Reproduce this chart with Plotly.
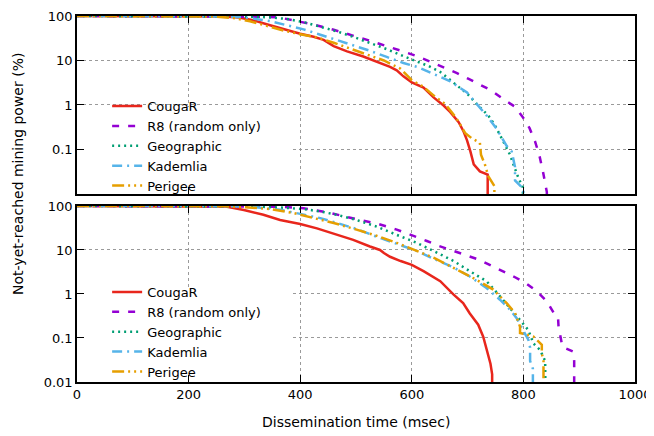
import plotly.graph_objects as go

# ---------------- data ----------------
x_tick_vals = [0, 200, 400, 600, 800, 1000]
y_tick_vals_top = [0.1, 1, 10, 100]
y_tick_text_top = ["0.1", "1", "10", "100"]
y_tick_vals_bot = [0.01, 0.1, 1, 10, 100]
y_tick_text_bot = ["0.01", "0.1", "1", "10", "100"]

series_names = ["CougaR", "R8 (random only)", "Geographic", "Kademlia", "Perigee"]

# top panel
cougar_top_x = [0, 200, 260, 290, 316, 346, 376, 400, 424, 442, 460, 484, 513, 543, 561, 573, 585, 600, 621, 639, 657, 669, 684, 693, 699, 705, 711, 722, 734, 736, 736]
cougar_top_y = [100, 99.5, 97, 92, 80, 62, 48, 40, 34, 29, 21, 16, 12.3, 9, 7.2, 6.0, 4.4, 3.2, 2.45, 1.48, 0.97, 0.69, 0.41, 0.25, 0.16, 0.09, 0.046, 0.032, 0.027, 0.027, 0.001]

r8_top_x = [0, 200, 300, 340, 364, 400, 424, 460, 490, 520, 543, 570, 591, 613, 637, 659, 681, 701, 722, 743, 764, 784, 799, 811, 821, 829, 835, 840, 842, 842]
r8_top_y = [100, 99.8, 99, 96, 92, 74, 64, 49, 37, 29, 23.5, 18.5, 15, 12, 9, 6.8, 5.2, 3.9, 2.8, 2.1, 1.35, 0.93, 0.53, 0.30, 0.15, 0.07, 0.032, 0.014, 0.011, 0.001]

geo_top_x = [0, 200, 280, 320, 346, 376, 406, 436, 466, 495, 525, 555, 585, 610, 630, 651, 675, 699, 719, 737, 749, 758, 767, 776, 782, 791, 799, 800]
geo_top_y = [100, 99.8, 98.5, 96, 93, 86, 73, 57, 45, 34, 25, 18, 12.5, 9.3, 7.5, 5.5, 3.1, 1.8, 0.97, 0.58, 0.35, 0.21, 0.13, 0.076, 0.046, 0.023, 0.014, 0.001]

kad_top_x = [0, 200, 260, 300, 346, 376, 406, 436, 466, 495, 525, 555, 585, 612, 639, 669, 699, 716, 734, 752, 761, 770, 779, 785, 785, 791, 800, 800]
kad_top_y = [100, 99.7, 98, 93, 77, 62, 50, 38, 29, 22, 16.5, 12, 8.8, 7.0, 5.0, 3.4, 1.9, 1.05, 0.58, 0.29, 0.19, 0.12, 0.09, 0.04, 0.02, 0.017, 0.013, 0.001]

per_top_x = [0, 200, 250, 280, 310, 340, 370, 400, 430, 460, 490, 520, 550, 580, 600, 620, 640, 660, 680, 696, 707, 722, 724, 731, 737, 745, 748, 748]
per_top_y = [100, 99.5, 97, 90, 76, 60, 47, 39, 33, 25, 18, 13.5, 10, 6.5, 3.6, 2.6, 1.6, 1.05, 0.5, 0.23, 0.18, 0.14, 0.076, 0.046, 0.025, 0.018, 0.015, 0.001]

# bottom panel
cougar_bot_x = [0, 200, 250, 269, 299, 334, 364, 400, 430, 466, 495, 525, 543, 550, 561, 580, 600, 621, 651, 675, 692, 704, 719, 728, 735, 741, 744, 744]
cougar_bot_y = [100, 99.7, 98.5, 96, 81, 63, 48, 39, 31, 22, 17, 12, 10, 8.5, 7, 5.6, 4.6, 3.3, 1.95, 0.97, 0.62, 0.36, 0.2, 0.107, 0.053, 0.026, 0.015, 0.001]

r8_bot_x = [0, 200, 300, 364, 406, 454, 501, 537, 573, 609, 627, 649, 673, 696, 719, 740, 764, 785, 806, 824, 842, 855, 862, 863, 870, 889, 891, 891]
r8_bot_y = [100, 99.9, 99.5, 96, 89, 69, 50, 40, 29, 20, 16, 12.3, 9.5, 7.7, 6.1, 4.5, 3.3, 2.4, 1.7, 1.15, 0.68, 0.36, 0.3, 0.18, 0.063, 0.049, 0.03, 0.001]

geo_bot_x = [0, 200, 280, 330, 364, 406, 436, 466, 501, 537, 573, 609, 639, 675, 704, 734, 758, 782, 797, 809, 818, 830, 839, 840]
geo_bot_y = [100, 99.9, 99, 96, 92, 85, 75, 63, 48, 34, 22, 14.5, 9.5, 5.6, 3.3, 1.95, 0.89, 0.4, 0.23, 0.15, 0.075, 0.053, 0.03, 0.001]

kad_bot_x = [0, 200, 260, 316, 364, 400, 436, 466, 501, 537, 573, 609, 639, 675, 704, 734, 758, 776, 788, 800, 809, 812, 812, 817, 817]
kad_bot_y = [100, 99.8, 99, 95, 82, 66, 53, 41, 30, 20, 14, 9.5, 6.3, 4, 2.5, 1.37, 0.74, 0.44, 0.28, 0.15, 0.09, 0.06, 0.03, 0.02, 0.001]

per_bot_x = [0, 200, 260, 300, 346, 388, 424, 460, 501, 537, 573, 609, 639, 675, 716, 746, 770, 785, 794, 794, 806, 818, 833, 833, 836, 836]
per_bot_y = [100, 99.8, 98.5, 94, 85, 69, 54, 41, 29, 21, 14.5, 9.5, 6.7, 3.9, 2.1, 1.26, 0.62, 0.37, 0.18, 0.13, 0.12, 0.108, 0.07, 0.045, 0.03, 0.001]

# ---------------- styling ----------------
colors = ["#e8261c", "#9400d3", "#009e73", "#56b4e9", "#e69f00"]
dashes = ["solid", "7px,9px", "2px,4px", "10px,5px,2px,5px", "12px,4px,2px,4px,2px,4px"]
FONT = "DejaVu Sans"

top_data = [(cougar_top_x, cougar_top_y), (r8_top_x, r8_top_y), (geo_top_x, geo_top_y),
            (kad_top_x, kad_top_y), (per_top_x, per_top_y)]
bot_data = [(cougar_bot_x, cougar_bot_y), (r8_bot_x, r8_bot_y), (geo_bot_x, geo_bot_y),
            (kad_bot_x, kad_bot_y), (per_bot_x, per_bot_y)]

fig = go.Figure()
for i, (xs, ys) in enumerate(top_data):
    fig.add_trace(go.Scatter(x=xs, y=ys, mode="lines", name=series_names[i],
                             line=dict(color=colors[i], width=2.5, dash=dashes[i]),
                             xaxis="x", yaxis="y", legend="legend"))
for i, (xs, ys) in enumerate(bot_data):
    fig.add_trace(go.Scatter(x=xs, y=ys, mode="lines", name=series_names[i],
                             line=dict(color=colors[i], width=2.5, dash=dashes[i]),
                             xaxis="x2", yaxis="y2", legend="legend2"))

axis_common = dict(showline=True, linecolor="black", linewidth=1.5, mirror="ticks",
                   ticks="inside", ticklen=7, tickcolor="black", tickwidth=1.2,
                   showgrid=True, gridcolor="#9a9a9a", griddash="dot", gridwidth=1,
                   zeroline=False, automargin=False,
                   tickfont=dict(family=FONT, size=13, color="black"))

legend_common = dict(bgcolor="rgba(0,0,0,0)", borderwidth=0,
                     font=dict(family=FONT, size=13, color="black"),
                     xanchor="left", yanchor="top", traceorder="normal",
                     tracegroupgap=0)

# the page body adds an 8px offset, so margins are shifted by 8px
fig.update_layout(
    width=654, height=436,
    margin=dict(l=69, r=27, t=8, b=62),
    paper_bgcolor="white", plot_bgcolor="white",
    font=dict(family=FONT, size=13, color="black"),
    xaxis=dict(domain=[0, 1], anchor="y", range=[0, 1000], tickvals=x_tick_vals,
               showticklabels=False, **axis_common),
    yaxis=dict(domain=[0.514, 1], anchor="x", type="log", range=[-2, 2],
               tickvals=y_tick_vals_top, ticktext=y_tick_text_top, **axis_common),
    xaxis2=dict(domain=[0, 1], anchor="y2", range=[0, 1000], tickvals=x_tick_vals,
                **axis_common),
    yaxis2=dict(domain=[0, 0.481], anchor="x2", type="log", range=[-2, 2],
                tickvals=y_tick_vals_bot, ticktext=y_tick_text_bot, **axis_common),
    legend=dict(x=0.054, y=0.795, **legend_common),
    legend2=dict(x=0.054, y=0.287, **legend_common),
    showlegend=True,
    shapes=[
        dict(type="rect", layer="between", xref="x", yref="y",
             x0=0, x1=387, y0=0.01, y1=0.9, fillcolor="white", line=dict(width=0)),
        dict(type="rect", layer="between", xref="x2", yref="y2",
             x0=0, x1=387, y0=0.01, y1=1.35, fillcolor="white", line=dict(width=0)),
    ],
    annotations=[
        dict(text="Not-yet-reached mining power (%)", xref="paper", yref="paper",
             x=-0.106, y=0.568, xanchor="center", yanchor="middle", textangle=-90,
             showarrow=False, font=dict(family=FONT, size=14, color="black")),
        dict(text="Dissemination time (msec)", xref="paper", yref="paper",
             x=0.5, y=-0.109, xanchor="center", yanchor="middle",
             showarrow=False, font=dict(family=FONT, size=14, color="black")),
    ],
)

fig.write_html("out.html")
